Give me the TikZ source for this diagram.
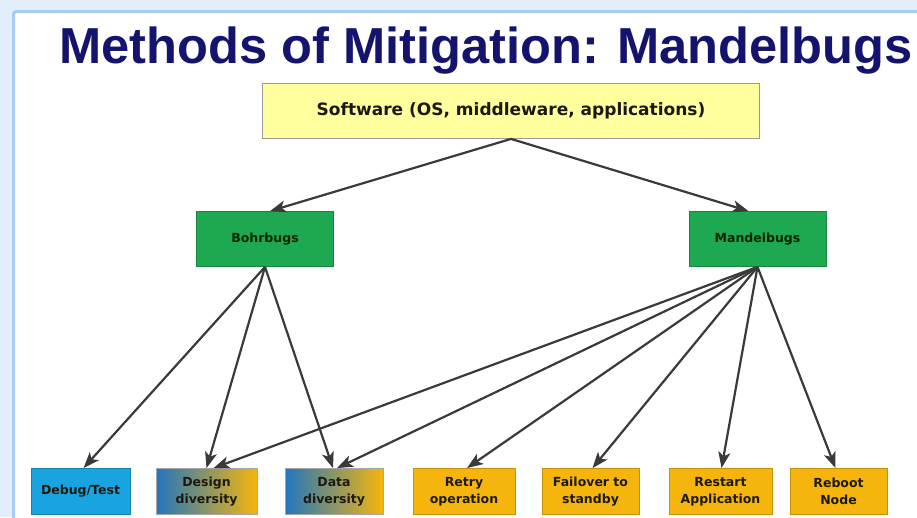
\documentclass[tikz,border=0pt]{standalone}
\usepackage{fontspec}
\setmainfont{DejaVu Sans}
\newfontfamily\titlefont{Liberation Sans}
\usetikzlibrary{arrows.meta,shadings}

\definecolor{titleblue}{HTML}{14146E}
\definecolor{frameglow}{HTML}{E3EEFB}
\definecolor{frameline}{HTML}{A8CBF1}
\definecolor{boxyellow}{HTML}{FFFF9E}
\definecolor{boxgreen}{HTML}{1EA851}
\definecolor{boxcyan}{HTML}{19A3E0}
\definecolor{boxorange}{HTML}{F5B50C}
\definecolor{mixblue}{HTML}{2276BE}
\definecolor{arrowgray}{HTML}{3A3A3A}
\definecolor{labeldark}{HTML}{1C1A10}

\tikzset{
  basebox/.style={rectangle, inner sep=0pt, align=center, text=labeldark,
    font=\bfseries\fontsize{12.5}{17}\selectfont, line width=0.8pt},
  rootbox/.style={basebox, fill=boxyellow, draw=black!40,
    minimum width=497pt, minimum height=55pt,
    font=\bfseries\fontsize{17}{20}\selectfont},
  bugbox/.style={basebox, fill=boxgreen, draw=boxgreen!80!black,
    minimum width=137pt, minimum height=55pt, text=black!85!green},
  leafbox/.style={basebox, minimum height=46pt},
  cyanbox/.style={leafbox, fill=boxcyan, draw=boxcyan!80!black},
  orangebox/.style={leafbox, fill=boxorange, draw=boxorange!80!black},
  mixbox/.style={leafbox, left color=mixblue, right color=boxorange,
    draw=black!35},
  link/.style={draw=arrowgray, line width=2.2pt,
    -{Stealth[length=16pt,width=12pt,inset=4pt]}},
}

\begin{document}
\begin{tikzpicture}[x=1pt,y=-1pt]
  \useasboundingbox (0,0) rectangle (917,517);

  % slide frame
  \fill[frameglow] (0,0) rectangle (917,517);
  \fill[white] (14,12) rectangle (930,530);
  \draw[frameline, line width=3pt, rounded corners=3pt] (13.5,530) -- (13.5,11.5) -- (930,11.5);

  % title
  \node[anchor=base west, inner sep=0pt, text=titleblue,
        font=\titlefont\bfseries\fontsize{50.6}{56}\selectfont] (title) at (59,63)
        {Methods of Mitigation: Mandelbugs};

  % tree nodes
  \node[rootbox] (soft) at (511,111) {Software (OS, middleware, applications)};

  \node[bugbox] (bohr)   at (265,239) {Bohrbugs};
  \node[bugbox] (mandel) at (757.5,239) {Mandelbugs};

  \node[cyanbox,   minimum width=99pt]  (debug)    at (80.5,491.5)  {Debug/Test};
  \node[mixbox,    minimum width=101pt] (design)   at (206.5,491.5) {Design\\diversity};
  \node[mixbox,    minimum width=98pt]  (data)     at (334,491.5)   {Data\\diversity};
  \node[orangebox, minimum width=102pt] (retry)    at (464,491.5)   {Retry\\operation};
  \node[orangebox, minimum width=97pt]  (failover) at (590.5,491.5) {Failover to\\standby};
  \node[orangebox, minimum width=103pt] (restart)  at (720.5,491.5) {Restart\\Application};
  \node[orangebox, minimum width=97pt]  (reboot)   at (838.5,491.5) {Reboot\\Node};

  % connectors
  \draw[link] (soft.south) -- ([xshift=5pt]bohr.north);
  \draw[link] (soft.south) -- ([xshift=-9pt]mandel.north);

  \draw[link] (bohr.south) -- ([xshift=3pt]debug.north);
  \draw[link] (bohr.south) -- ([xshift=0pt]design.north);
  \draw[link] (bohr.south) -- ([xshift=-1pt]data.north);

  \draw[link] (mandel.south) -- ([xshift=7pt]design.north);
  \draw[link] (mandel.south) -- ([xshift=3pt]data.north);
  \draw[link] (mandel.south) -- ([xshift=3pt]retry.north);
  \draw[link] (mandel.south) -- ([xshift=2pt]failover.north);
  \draw[link] (mandel.south) -- ([xshift=1pt]restart.north);
  \draw[link] (mandel.south) -- ([xshift=-3pt]reboot.north);
\end{tikzpicture}
\end{document}
